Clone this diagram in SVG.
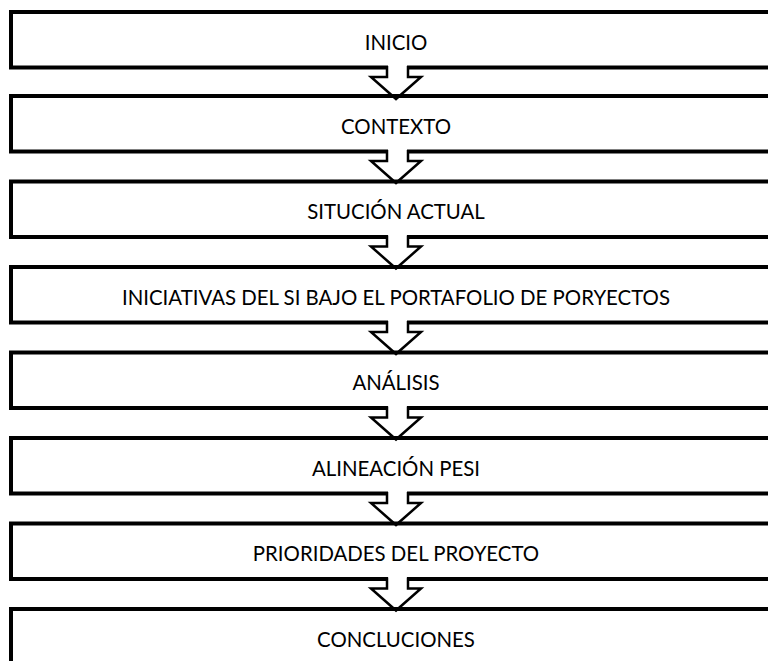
<svg xmlns="http://www.w3.org/2000/svg" width="768" height="661" viewBox="0 0 768 661">
<style>
.box{fill:#fff;stroke:#000;stroke-width:4}
.lbl{font-family:Lato,"Open Sans",sans-serif;font-size:20.4px;fill:#000;text-anchor:middle}
.ar{fill:none;stroke:#000;stroke-width:2.5;stroke-linejoin:miter}
.arf{fill:#fff;stroke:none}
</style>
<rect width="768" height="661" fill="#fff"/>
<g id="n1"><rect class="box" x="11" y="12" width="790" height="55.5"/><text class="lbl" x="396" y="49.5">INICIO</text></g>
<g id="n2"><rect class="box" x="11" y="96" width="790" height="55.5"/><text class="lbl" x="396" y="133.5">CONTEXTO</text></g>
<g id="n3"><rect class="box" x="11" y="181.5" width="790" height="55.5"/><text class="lbl" x="396" y="219">SITUCIÓN ACTUAL</text></g>
<g id="n4"><rect class="box" x="11" y="267" width="790" height="55.5"/><text class="lbl" x="396" y="304.5">INICIATIVAS DEL SI BAJO EL PORTAFOLIO DE PORYECTOS</text></g>
<g id="n5"><rect class="box" x="11" y="352.5" width="790" height="55.5"/><text class="lbl" x="396" y="390">ANÁLISIS</text></g>
<g id="n6"><rect class="box" x="11" y="438" width="790" height="55.5"/><text class="lbl" x="396" y="475.5">ALINEACIÓN PESI</text></g>
<g id="n7"><rect class="box" x="11" y="523.5" width="790" height="55.5"/><text class="lbl" x="396" y="561">PRIORIDADES DEL PROYECTO</text></g>
<g id="n8"><rect class="box" x="11" y="609" width="790" height="80"/><text class="lbl" x="396" y="646.5">CONCLUCIONES</text></g>
<g id="connectors">
<g transform="translate(0,0)"><rect class="arf" x="388" y="64" width="19" height="8"/><polyline class="ar" points="387,66 387,77 371,77 396,99 421,77 408,77 408,66"/></g>
<g transform="translate(0,84)"><rect class="arf" x="388" y="64" width="19" height="8"/><polyline class="ar" points="387,66 387,77 371,77 396,99 421,77 408,77 408,66"/></g>
<g transform="translate(0,169.5)"><rect class="arf" x="388" y="64" width="19" height="8"/><polyline class="ar" points="387,66 387,77 371,77 396,99 421,77 408,77 408,66"/></g>
<g transform="translate(0,255)"><rect class="arf" x="388" y="64" width="19" height="8"/><polyline class="ar" points="387,66 387,77 371,77 396,99 421,77 408,77 408,66"/></g>
<g transform="translate(0,340.5)"><rect class="arf" x="388" y="64" width="19" height="8"/><polyline class="ar" points="387,66 387,77 371,77 396,99 421,77 408,77 408,66"/></g>
<g transform="translate(0,426)"><rect class="arf" x="388" y="64" width="19" height="8"/><polyline class="ar" points="387,66 387,77 371,77 396,99 421,77 408,77 408,66"/></g>
<g transform="translate(0,511.5)"><rect class="arf" x="388" y="64" width="19" height="8"/><polyline class="ar" points="387,66 387,77 371,77 396,99 421,77 408,77 408,66"/></g>
</g>
</svg>
